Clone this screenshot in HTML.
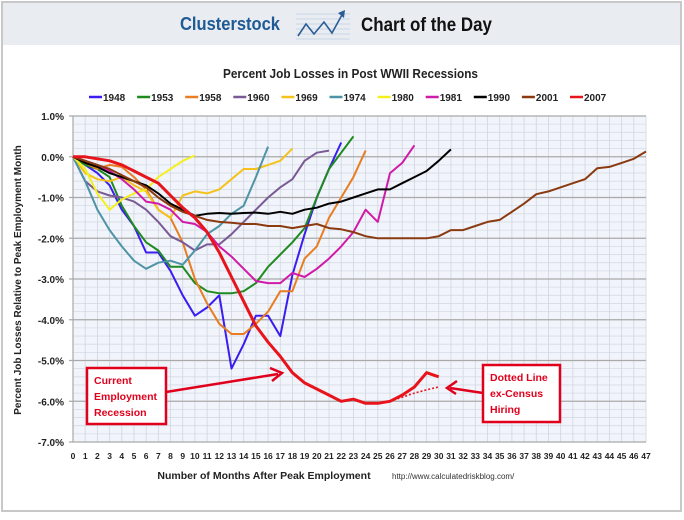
<!DOCTYPE html>
<html><head><meta charset="utf-8"><style>
body{margin:0;background:#fff;}
svg text{font-family:"Liberation Sans",sans-serif;}
</style></head><body>
<svg id="chart" width="684" height="515" viewBox="0 0 684 515" xmlns="http://www.w3.org/2000/svg">
<rect x="2" y="2" width="679" height="509" fill="#fff" stroke="#c8c8c8" stroke-width="2"/>
<rect x="3" y="3" width="677" height="42" fill="#e9edf2"/>
<text x="180" y="30" font-size="18" font-weight="bold" fill="#1f5a94" textLength="100" lengthAdjust="spacingAndGlyphs">Clusterstock</text>
<g>
<g stroke="#c9d6e6" stroke-width="1"><line x1="296" y1="14" x2="350" y2="14"/><line x1="296" y1="19" x2="350" y2="19"/><line x1="296" y1="24" x2="350" y2="24"/><line x1="296" y1="29" x2="350" y2="29"/><line x1="296" y1="34" x2="350" y2="34"/><line x1="296" y1="39" x2="350" y2="39"/></g>
<polyline points="298,36 306,24 314,34 324,22 332,33 343,13" fill="none" stroke="#2a5d95" stroke-width="1.6"/>
<polygon points="345,10 338,13 344,18" fill="#2a5d95"/>
</g>
<text x="361" y="31" font-size="19" font-weight="bold" fill="#111" textLength="131" lengthAdjust="spacingAndGlyphs">Chart of the Day</text>
<text x="223" y="78" font-size="12.5" font-weight="bold" fill="#222" textLength="255" lengthAdjust="spacingAndGlyphs">Percent Job Losses in Post WWII Recessions</text>
<g id="legend"></g>
<g id="grid"></g>
<g id="axes"></g>
<g id="series"></g>
<text transform="translate(21,280) rotate(-90)" font-size="10" font-weight="bold" text-anchor="middle" fill="#222">Percent Job Losses Relative to Peak Employment Month</text>
<text x="264" y="479" font-size="10.5" font-weight="bold" text-anchor="middle" fill="#222">Number of Months After Peak Employment</text>
<text x="392" y="479" font-size="8" fill="#333">http://www.calculatedriskblog.com/</text>
<g>
<rect x="87" y="368" width="79" height="56" fill="#fff" stroke="#e0001b" stroke-width="2.5"/>
<text x="94" y="384" font-size="10.5" font-weight="bold" fill="#e0001b">Current</text>
<text x="94" y="400" font-size="10.5" font-weight="bold" fill="#e0001b">Employment</text>
<text x="94" y="416" font-size="10.5" font-weight="bold" fill="#e0001b">Recession</text>
<line x1="166" y1="392" x2="278" y2="374" stroke="#e0001b" stroke-width="2.5"/>
<polyline points="270,368 282,373 272,381" fill="none" stroke="#e0001b" stroke-width="2.5"/>
</g>
<g>
<rect x="483" y="365" width="77" height="57" fill="#fff" stroke="#e0001b" stroke-width="2.5"/>
<text x="490" y="381" font-size="10.5" font-weight="bold" fill="#e0001b">Dotted Line</text>
<text x="490" y="397" font-size="10.5" font-weight="bold" fill="#e0001b">ex-Census</text>
<text x="490" y="413" font-size="10.5" font-weight="bold" fill="#e0001b">Hiring</text>
<line x1="483" y1="393" x2="450" y2="388" stroke="#e0001b" stroke-width="2.5"/>
<polyline points="457,381 447,388 456,394" fill="none" stroke="#e0001b" stroke-width="2.5"/>
</g>
</svg>
<script>
const years=["1948","1953","1958","1960","1969","1974","1980","1981","1990","2001","2007"];
const colors=["#3a1df0","#1f8a1f","#e87d22","#7a5a95","#f5c21c","#4f94a6","#f4f020","#d01aa8","#000000","#8b3a10","#e8141c"];
const s1948=[0,-0.2,-0.4,-0.7,-1.3,-1.7,-2.35,-2.35,-2.8,-3.4,-3.9,-3.7,-3.4,-5.2,-4.6,-3.9,-3.9,-4.4,-2.9,-1.9,-1.0,-0.3,0.35];
const s1953=[0,-0.2,-0.3,-0.5,-1.2,-1.7,-2.1,-2.3,-2.7,-2.7,-3.1,-3.3,-3.35,-3.35,-3.3,-3.1,-2.7,-2.4,-2.1,-1.75,-1.0,-0.3,0.1,0.5];
const s1958=[0,-0.15,-0.3,-0.2,-0.25,-0.5,-0.8,-1.3,-1.5,-2.1,-3.0,-3.6,-4.1,-4.35,-4.35,-4.1,-3.8,-3.3,-3.3,-2.5,-2.2,-1.5,-1.0,-0.5,0.15];
const s1960=[0,-0.6,-0.85,-0.95,-1.0,-1.1,-1.3,-1.6,-1.95,-2.1,-2.3,-2.15,-2.15,-1.9,-1.6,-1.3,-1.0,-0.75,-0.55,-0.1,0.1,0.15];
const s1969=[0,-0.4,-0.55,-0.6,-0.5,-0.7,-0.85,-1.3,-1.5,-0.95,-0.85,-0.9,-0.8,-0.55,-0.3,-0.3,-0.2,-0.1,0.2];
const s1974=[0,-0.6,-1.3,-1.8,-2.2,-2.55,-2.75,-2.6,-2.55,-2.65,-2.3,-1.9,-1.7,-1.4,-1.2,-0.5,0.25];
const s1980=[0,-0.3,-0.9,-1.3,-1.05,-0.9,-0.8,-0.5,-0.3,-0.1,0.03];
const s1981=[0,-0.1,-0.2,-0.35,-0.55,-0.8,-1.1,-1.15,-1.3,-1.6,-1.65,-1.85,-2.2,-2.45,-2.75,-3.05,-3.1,-3.1,-2.85,-2.95,-2.75,-2.5,-2.2,-1.85,-1.3,-1.6,-0.4,-0.15,0.28];
const s1990=[0,-0.15,-0.25,-0.4,-0.5,-0.6,-0.7,-0.9,-1.15,-1.3,-1.45,-1.4,-1.38,-1.4,-1.38,-1.37,-1.4,-1.35,-1.4,-1.3,-1.25,-1.15,-1.1,-1.0,-0.9,-0.8,-0.8,-0.65,-0.5,-0.35,-0.1,0.18];
const s2001=[0,-0.1,-0.2,-0.3,-0.45,-0.6,-0.75,-1.0,-1.2,-1.35,-1.45,-1.55,-1.6,-1.62,-1.65,-1.65,-1.7,-1.7,-1.75,-1.7,-1.65,-1.75,-1.78,-1.85,-1.95,-2.0,-2.0,-2.0,-2.0,-2.0,-1.95,-1.8,-1.8,-1.7,-1.6,-1.55,-1.35,-1.15,-0.92,-0.85,-0.75,-0.65,-0.55,-0.28,-0.25,-0.15,-0.05,0.13];
const s2007=[0,0,-0.05,-0.1,-0.2,-0.35,-0.5,-0.65,-0.95,-1.25,-1.5,-1.85,-2.35,-2.95,-3.55,-4.15,-4.55,-4.9,-5.3,-5.55,-5.7,-5.85,-6.0,-5.95,-6.05,-6.05,-6.0,-5.85,-5.65,-5.3,-5.4];
const dottedMonths=[26,27,28,29,30];
const dottedValues=[-6.0,-5.9,-5.8,-5.72,-5.65];
const seriesList=[s1948,s1953,s1958,s1960,s1969,s1974,s1980,s1981,s1990,s2001,s2007];
const yTicks=[1,0,-1,-2,-3,-4,-5,-6,-7];
const yTickLabels=["1.0%","0.0%","-1.0%","-2.0%","-3.0%","-4.0%","-5.0%","-6.0%","-7.0%"];
const maxMonth=47;

const NS="http://www.w3.org/2000/svg";
const X0=73,X1=646,Y0=116,Y1=442,VMAX=1,VMIN=-7;
function xs(m){return X0+(X1-X0)*m/maxMonth;}
function ys(v){return Y0+(Y1-Y0)*(VMAX-v)/(VMAX-VMIN);}
function mk(tag,attrs,parent){const e=document.createElementNS(NS,tag);for(const k in attrs)e.setAttribute(k,attrs[k]);parent.appendChild(e);return e;}

const grid=document.getElementById('grid');
const bg=mk('rect',{x:X0,y:Y0,width:X1-X0,height:Y1-Y0,fill:'#f1f4fa'},grid);


for(let i=0;i<=40;i++){const v=VMIN+i*0.2;if(Math.abs(v-Math.round(v))<1e-6)continue;
 const l=mk('line',{x1:X0,x2:X1,y1:ys(v),y2:ys(v),stroke:'#d6dbe6','stroke-width':0.8},grid);
 
 }
for(let m=1;m<=maxMonth;m++){
 const l=mk('line',{x1:xs(m),x2:xs(m),y1:Y0,y2:Y1,stroke:'#d0d5e0','stroke-width':0.8},grid);
 
 }
const axes=document.getElementById('axes');
yTicks.forEach((v,i)=>{
 const l=mk('line',{x1:X0-4,x2:X1,y1:ys(v),y2:ys(v),stroke:'#a9a9a9','stroke-width':1.2},axes);
 
 
 const t=mk('text',{x:X0-9,y:ys(v)+4,'font-size':10,'font-weight':'bold','text-anchor':'end',fill:'#222'},axes);
 t.textContent=yTickLabels[i];
 
 
});
const ya=mk('line',{x1:X0,x2:X0,y1:Y0,y2:Y1,stroke:'#a9a9a9','stroke-width':1.2},axes);


for(let m=0;m<=maxMonth;m++){
 const t=mk('text',{x:xs(m),y:459,'font-size':8.5,'font-weight':'bold','text-anchor':'middle',fill:'#222'},axes);
 t.textContent=String(m);
 
 
}
const sg=document.getElementById('series');
seriesList.forEach((s,i)=>{
 const pts=s.map((v,m)=>xs(m).toFixed(1)+','+ys(v).toFixed(1)).join(' ');
 const p=mk('polyline',{points:pts,fill:'none',stroke:colors[i],'stroke-width':i===10?3:2,'stroke-linejoin':'round'},sg);
 
 
});
const dp=mk('polyline',{points:dottedMonths.map((m,i)=>xs(m).toFixed(1)+','+ys(dottedValues[i]).toFixed(1)).join(' '),fill:'none',stroke:'#e8141c','stroke-width':1.6,'stroke-dasharray':'2,2'},sg);


const lg=document.getElementById('legend');
years.forEach((y,i)=>{
 const x=89+i*48.1;
 const g=mk('g',{},lg);
 
 
 mk('line',{x1:x,x2:x+13,y1:97,y2:97,stroke:colors[i],'stroke-width':2.5},g);
 const t=mk('text',{x:x+14,y:101,'font-size':10,'font-weight':'bold',fill:'#222'},g);
 t.textContent=y;
});
</script>
</body></html>
